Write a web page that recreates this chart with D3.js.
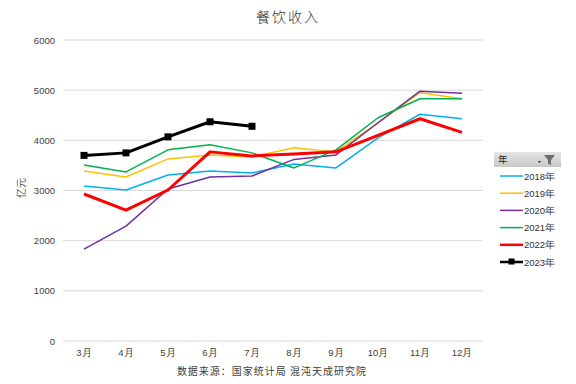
<!DOCTYPE html>
<html>
<head>
<meta charset="utf-8">
<script src="https://cdn.jsdelivr.net/npm/d3@7"></script>
<style>
  body { margin: 0; background: #fff; }
  text { font-family: "Liberation Sans", Arial, sans-serif; }
  .cjk { font-family: "Noto Sans CJK SC", sans-serif; }
</style>
</head>
<body>
<script>
const [width, height] = [576, 384];
const margin = {top: 40, right: 93, bottom: 43, left: 63};

const months = ["3月", "4月", "5月", "6月", "7月", "8月", "9月", "10月", "11月", "12月"];
const yTicks = [0, 1000, 2000, 3000, 4000, 5000, 6000];

const years = ["2018年", "2019年", "2020年", "2021年", "2022年", "2023年"];
const colors = ["#00b0f0", "#ffc000", "#7030a0", "#00b050", "#ff0000", "#000000"];

// 亿元
const v2018 = [3090, 3010, 3310, 3390, 3350, 3530, 3450, 4050, 4520, 4430];
const v2019 = [3390, 3270, 3630, 3710, 3670, 3850, 3770, 4350, 4950, 4830];
const v2020 = [1830, 2290, 3030, 3270, 3290, 3620, 3710, 4350, 4980, 4940];
const v2021 = [3510, 3370, 3810, 3910, 3750, 3450, 3810, 4450, 4830, 4830];
const v2022 = [2930, 2610, 3010, 3770, 3690, 3730, 3770, 4100, 4430, 4160];
const v2023 = [3700, 3750, 4070, 4370, 4280];

const series = [v2018, v2019, v2020, v2021, v2022, v2023];
const strokeW = [1.5, 1.5, 1.5, 1.5, 3, 3];

const svg = d3.select("body").append("svg")
    .attr("width", width)
    .attr("height", height);

const x = d3.scaleBand()
    .domain(months)
    .range([margin.left, width - margin.right]);

const y = d3.scaleLinear()
    .domain([0, 6000])
    .range([height - margin.bottom, margin.top]);

// grid
svg.append("g")
    .selectAll("line")
    .data(yTicks)
    .join("line")
        .attr("x1", margin.left)
        .attr("x2", width - margin.right)
        .attr("y1", d => y(d))
        .attr("y2", d => y(d))
        .attr("stroke", "#d9d9d9")
        .attr("stroke-width", 1);

// y axis labels
const yAxis = svg.append("g")
    .attr("transform", `translate(${margin.left - 6},0)`)
    .call(d3.axisLeft(y).tickValues(yTicks).tickFormat(d3.format("d")).tickSize(0).tickPadding(2));
yAxis.select(".domain").remove();
yAxis.selectAll("text").attr("font-size", 9.5).attr("fill", "#404040")
    .attr("font-family", "Liberation Sans, Arial, sans-serif");

// x axis labels
const xAxis = svg.append("g")
    .attr("transform", `translate(0,${height - margin.bottom + 6})`)
    .call(d3.axisBottom(x).tickSize(0).tickPadding(2));
xAxis.select(".domain").remove();
xAxis.selectAll("text").attr("font-size", 9.5).attr("fill", "#404040")
    .attr("font-family", "Liberation Sans, Noto Sans CJK SC, sans-serif");

// lines
const line = d3.line()
    .x((d, i) => x(months[i]) + x.bandwidth() / 2)
    .y(d => y(d));

series.forEach((s, k) => {
    svg.append("path")
        .datum(s)
        .attr("fill", "none")
        .attr("stroke", colors[k])
        .attr("stroke-width", strokeW[k])
        .attr("stroke-linejoin", "round")
        .attr("d", line);
});

// 2023 markers
svg.append("g")
    .selectAll("rect")
    .data(v2023)
    .join("rect")
        .attr("x", (d, i) => x(months[i]) + x.bandwidth() / 2 - 3.5)
        .attr("y", d => y(d) - 3.5)
        .attr("width", 7)
        .attr("height", 7)
        .attr("fill", "#000");

// title
svg.append("text")
    .attr("class", "cjk")
    .attr("x", 288)
    .attr("y", 22)
    .attr("text-anchor", "middle")
    .attr("font-size", 14)
    .attr("font-weight", 300)
    .attr("fill", "#333")
    .attr("letter-spacing", 2)
    .text("餐饮收入");

// y title
svg.append("text")
    .attr("class", "cjk")
    .attr("transform", "translate(25,188) rotate(-90)")
    .attr("text-anchor", "middle")
    .attr("font-size", 10)
    .attr("fill", "#595959")
    .text("亿元");

// source
svg.append("text")
    .attr("class", "cjk")
    .attr("x", 272)
    .attr("y", 375)
    .attr("text-anchor", "middle")
    .attr("font-size", 10)
    .attr("fill", "#404040")
    .attr("letter-spacing", 1)
    .text("数据来源：国家统计局 混沌天成研究院");

// legend header (pivot filter)
const lg = svg.append("g").attr("transform", "translate(494,152)");
const grad = svg.append("defs").append("linearGradient")
    .attr("id", "hdr").attr("x1", 0).attr("y1", 0).attr("x2", 0).attr("y2", 1);
grad.append("stop").attr("offset", "0%").attr("stop-color", "#e4e4e4");
grad.append("stop").attr("offset", "100%").attr("stop-color", "#c8c8c8");
lg.append("rect")
    .attr("width", 67).attr("height", 15)
    .attr("fill", "url(#hdr)");
lg.append("text")
    .attr("class", "cjk")
    .attr("x", 4).attr("y", 11)
    .attr("font-size", 9.5)
    .attr("fill", "#222")
    .text("年");
lg.append("path")
    .attr("d", "M44,9 l3,0 l-1.5,2 z")
    .attr("fill", "#333");
lg.append("path")
    .attr("d", "M50,3 h11 l-4,5 v5 l-3,-1.5 v-3.5 z")
    .attr("fill", "#6d6d6d");

const items = svg.append("g")
    .selectAll("g")
    .data(years)
    .join("g")
        .attr("transform", (d, i) => `translate(500,${176 + i * 17.2})`);
items.append("line")
    .attr("x1", 0).attr("x2", 23)
    .attr("stroke", (d, i) => colors[i])
    .attr("stroke-width", (d, i) => strokeW[i] === 3 ? 2.5 : 1.5);
items.filter((d, i) => i === 5).append("rect")
    .attr("x", 8.5).attr("y", -3.5).attr("width", 6).attr("height", 6)
    .attr("fill", "#000");
items.append("text")
    .attr("x", 24).attr("y", 3.5)
    .attr("font-size", 9.5)
    .attr("fill", "#333")
    .attr("font-family", "Liberation Sans, Noto Sans CJK SC, sans-serif")
    .text(d => d);
</script>
</body>
</html>
